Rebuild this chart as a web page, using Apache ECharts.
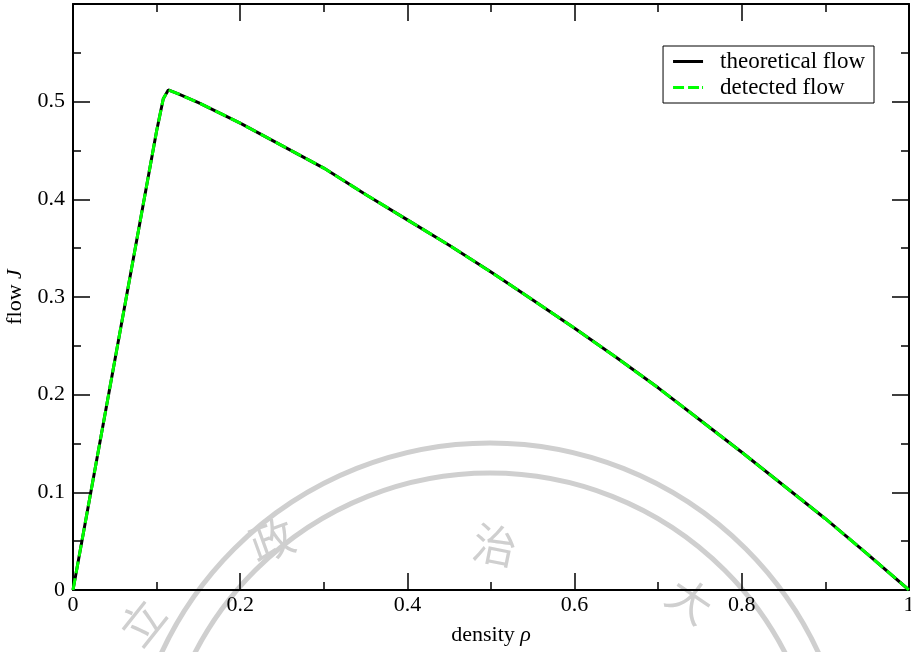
<!DOCTYPE html>
<html>
<head>
<meta charset="utf-8">
<script src="https://cdn.jsdelivr.net/npm/echarts@6/dist/echarts.min.js"></script>
<style>
  html, body { margin: 0; padding: 0; background: #fff; }
  #chart { width: 911px; height: 652px; }
</style>
</head>
<body>
<div id="chart"></div>
<script>
// density values (x) and flow values (y)
const density = [0, 0.02, 0.05, 0.08, 0.1, 0.108, 0.114, 0.126, 0.15, 0.2, 0.25, 0.3, 0.35,
  0.4, 0.45, 0.5, 0.55, 0.6, 0.65, 0.7, 0.75, 0.8, 0.85, 0.9, 0.95, 1.0]
const theoreticalFlow = [0, 0.094, 0.235, 0.376, 0.47, 0.503, 0.512, 0.508, 0.499, 0.478, 0.455,
  0.432, 0.405, 0.379, 0.353, 0.3255, 0.297, 0.268, 0.238, 0.207, 0.174, 0.141, 0.107, 0.073, 0.037, 0]
const detectedFlow = [0, 0.094, 0.235, 0.376, 0.47, 0.503, 0.512, 0.508, 0.499, 0.478, 0.455,
  0.432, 0.405, 0.379, 0.353, 0.3255, 0.297, 0.268, 0.238, 0.207, 0.174, 0.141, 0.107, 0.073, 0.037, 0]

const seriesNames = ['theoretical flow', 'detected flow']

const FONT = "'Liberation Serif', 'Times New Roman', serif"
const WM = '#cfcfcf' // watermark grey

const chart = echarts.init(document.getElementById('chart'))

const pairs = (xs, ys) => xs.map((x, i) => [x, ys[i]])

// common axis look: black frame, inward ticks
const frameAxis = {
    axisLine: { show: true, onZero: false, lineStyle: { color: '#000', width: 2 } },
    axisTick: { show: true, inside: true, length: 17, lineStyle: { color: '#000', width: 1.5 } },
    minorTick: { show: true, splitNumber: 2, length: 8, lineStyle: { color: '#000', width: 1.5 } },
    splitLine: { show: false }
}

const option = {
    animation: false,
    backgroundColor: '#fff',
    textStyle: { fontFamily: FONT },
    grid: { left: 73, right: 2, top: 4, bottom: 62, containLabel: false, outerBoundsMode: 'none' },
    // watermark of the scanned page
    graphic: [
        { type: 'circle', z: -10, shape: { cx: 490, cy: 805, r: 362 }, style: { fill: 'none', stroke: WM, lineWidth: 5 } },
        { type: 'circle', z: -10, shape: { cx: 490, cy: 805, r: 332 }, style: { fill: 'none', stroke: WM, lineWidth: 5 } },
        { type: 'text', z: -10, x: 142, y: 622, rotation: 0.9, style: { text: '立', fill: WM, font: '44px "Noto Sans CJK TC"', align: 'center', verticalAlign: 'middle' } },
        { type: 'text', z: -10, x: 272, y: 540, rotation: 0.35, style: { text: '政', fill: WM, font: '44px "Noto Sans CJK TC"', align: 'center', verticalAlign: 'middle' } },
        { type: 'text', z: -10, x: 495, y: 545, rotation: -0.2, style: { text: '治', fill: WM, font: '44px "Noto Sans CJK TC"', align: 'center', verticalAlign: 'middle' } },
        { type: 'text', z: -10, x: 690, y: 600, rotation: -0.6, style: { text: '大', fill: WM, font: '44px "Noto Sans CJK TC"', align: 'center', verticalAlign: 'middle' } }
    ],
    legend: {
        data: [
            { name: seriesNames[0], icon: 'path://M0,0h30v3h-30z' },
            { name: seriesNames[1], icon: 'path://M0,0h11v3h-11z M15,0h11v3h-11z M29,0h1v3h-1z' }
        ],
        orient: 'vertical',
        right: 37,
        top: 46,
        backgroundColor: '#fff',
        borderColor: '#000',
        borderWidth: 1,
        borderRadius: 0,
        padding: [4, 9, 4, 10],
        itemGap: 3,
        itemWidth: 30,
        itemHeight: 3,
        textStyle: { fontFamily: FONT, fontSize: 23, color: '#000', padding: [0, 0, 0, 12] }
    },
    xAxis: [
        {
            type: 'value', position: 'bottom', min: 0, max: 1, interval: 0.2,
            ...frameAxis,
            axisLabel: { show: true, color: '#000', fontSize: 22, fontFamily: FONT, margin: 4, hideOverlap: false },
            name: '{n|density }{g|ρ}',
            nameLocation: 'middle',
            nameGap: 34,
            nameTextStyle: {
                rich: {
                    n: { fontFamily: FONT, fontSize: 22, color: '#000' },
                    g: { fontFamily: FONT, fontSize: 22, color: '#000', fontStyle: 'italic' }
                }
            }
        },
        {
            type: 'value', position: 'top', min: 0, max: 1, interval: 0.2,
            ...frameAxis,
            axisLabel: { show: false }
        }
    ],
    yAxis: [
        {
            type: 'value', position: 'left', min: 0, max: 0.6, interval: 0.1,
            ...frameAxis,
            axisLabel: {
                show: true, color: '#000', fontSize: 22, fontFamily: FONT, margin: 8,
                formatter: v => (Math.abs(v - 0.6) < 1e-6 ? '' : String(+v.toFixed(1)))
            },
            name: '{n|flow }{g|J}',
            nameLocation: 'middle',
            nameGap: 44,
            nameRotate: 90,
            nameTextStyle: {
                rich: {
                    n: { fontFamily: FONT, fontSize: 22, color: '#000' },
                    g: { fontFamily: FONT, fontSize: 22, color: '#000', fontStyle: 'italic' }
                }
            }
        },
        {
            type: 'value', position: 'right', min: 0, max: 0.6, interval: 0.1,
            ...frameAxis,
            axisLabel: { show: false }
        }
    ],
    series: [
        {
            name: seriesNames[0],
            type: 'line',
            data: pairs(density, theoreticalFlow),
            showSymbol: false,
            symbol: 'none',
            color: '#000',
            lineStyle: { color: '#000', width: 3 },
            z: 3
        },
        {
            name: seriesNames[1],
            type: 'line',
            data: pairs(density, detectedFlow),
            showSymbol: false,
            symbol: 'none',
            color: '#00ff00',
            lineStyle: { color: '#00ff00', width: 3, type: [12, 5] },
            z: 4
        }
    ]
}

chart.setOption(option)
</script>
</body>
</html>
